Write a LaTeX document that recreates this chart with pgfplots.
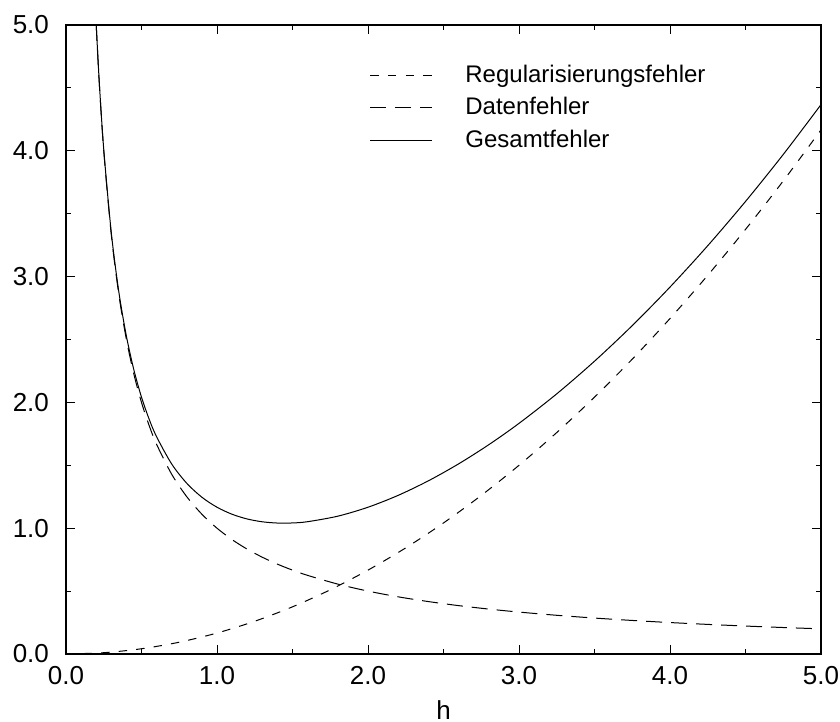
\documentclass[border=0pt]{standalone}
\usepackage{fontspec}
\setmainfont{Liberation Sans}
\usepackage{pgfplots}
\pgfplotsset{compat=1.18}
\begin{document}
\begin{tikzpicture}
\begin{axis}[
  scale only axis,
  width=377.5pt, height=314.5pt,
  xmin=0, xmax=5, ymin=0, ymax=5,
  xtick={0,1,2,3,4,5}, ytick={0,1,2,3,4,5},
  minor xtick={0.5,1.5,2.5,3.5,4.5},
  minor ytick={0.5,1.5,2.5,3.5,4.5},
  tick align=inside,
  major tick length=4.5pt, minor tick length=2.5pt,
  xticklabel style={yshift=-2.7pt},
  yticklabel style={xshift=-5pt},
  /pgf/number format/.cd, fixed, fixed zerofill, precision=1, assume math mode=true,
  /pgfplots/.cd,
  tick label style={font=\fontsize{13}{15}\selectfont},
  label style={font=\fontsize{13}{15}\selectfont},
  xlabel={h},
  xlabel style={at={(axis description cs:0.5,0)}, anchor=north, yshift=-19.7pt},
  axis line style={line width=0.6pt},
  every tick/.style={line width=0.5pt, black},
  legend style={draw=none, fill=none, at={(0.402,0.9437)}, anchor=north west,
    font=\fontsize{12}{14}\selectfont, row sep=2.2pt, inner sep=0pt},
  legend cell align=left,
  legend image code/.code={\draw[#1] (0pt,0pt) -- (31pt,0pt); \path[draw=none] (0pt,0pt) -- (45.5pt,0pt);},
  clip=true,
]
\addplot[black, line width=0.5pt, dash pattern=on 4.2pt off 4.6pt, smooth] coordinates {
(0,0) (0.25,0.0104) (0.5,0.0417) (0.75,0.09375) (1.0,0.1667) (1.25,0.2604)
(1.5,0.375) (1.75,0.5104) (2.0,0.6667) (2.25,0.84375) (2.5,1.0417) (2.75,1.2604)
(3.0,1.5) (3.25,1.7604) (3.5,2.0417) (3.75,2.34375) (4.0,2.6667) (4.25,3.0104)
(4.5,3.375) (4.75,3.7604) (5.0,4.1667)};
\addlegendentry{Regularisierungsfehler}
\addplot[black, line width=0.5pt, dash pattern=on 8pt off 4.5pt, smooth] coordinates {
(0.2,5.0) (0.22,4.5455) (0.25,4.0) (0.3,3.3333) (0.35,2.8571) (0.4,2.5) (0.45,2.2222)
(0.5,2.0) (0.55,1.8182) (0.6,1.6667) (0.7,1.4286) (0.8,1.25) (0.9,1.1111) (1.0,1.0)
(1.1,0.9091) (1.2,0.8333) (1.3,0.7692) (1.4,0.7143) (1.5,0.6667) (1.6,0.625)
(1.8,0.5556) (2.0,0.5) (2.2,0.4545) (2.4,0.4167) (2.6,0.3846) (2.8,0.3571) (3.0,0.3333)
(3.25,0.3077) (3.5,0.2857) (3.75,0.2667) (4.0,0.25) (4.25,0.2353) (4.5,0.2222)
(4.75,0.2105) (5.0,0.2)};
\addlegendentry{Datenfehler}
\addplot[black, line width=0.5pt, smooth] coordinates {
(0.2,5.0067) (0.22,4.5535) (0.25,4.0104) (0.3,3.3483) (0.35,2.8775) (0.4,2.5267)
(0.45,2.2560) (0.5,2.0417) (0.55,1.8686) (0.6,1.7267) (0.7,1.5103) (0.8,1.3567)
(0.9,1.2461) (1.0,1.1667) (1.1,1.1108) (1.2,1.0733) (1.3,1.0509) (1.4,1.0410)
(1.5,1.0417) (1.6,1.0517) (1.8,1.0956) (2.0,1.1667) (2.2,1.2612) (2.4,1.3767)
(2.6,1.5113) (2.8,1.6638) (3.0,1.8333) (3.25,2.0681) (3.5,2.3274) (3.75,2.6104)
(4.0,2.9167) (4.25,3.2457) (4.5,3.5972) (4.75,3.9709) (5.0,4.3667)};
\addlegendentry{Gesamtfehler}
\end{axis}
\pgfresetboundingbox
\path[use as bounding box] ([shift={(-33pt,-34pt)}]current axis.south west) rectangle ([shift={(9.5pt,12.5pt)}]current axis.north east);
\end{tikzpicture}
\end{document}
